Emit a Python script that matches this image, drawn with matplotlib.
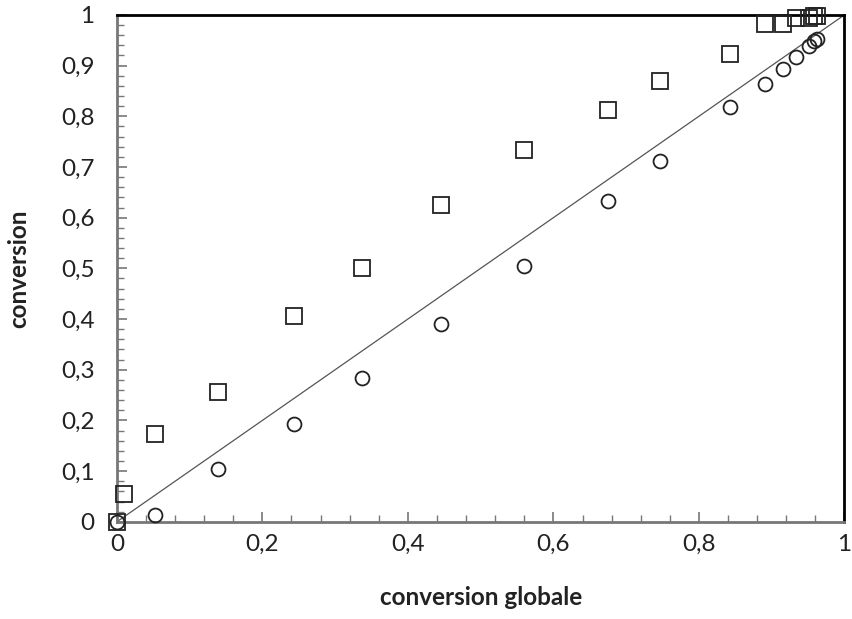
import matplotlib.pyplot as plt
from matplotlib.ticker import MultipleLocator, FuncFormatter

plt.rcParams['font.family'] = ['Lato', 'DejaVu Sans']

# conversion globale (x) et conversions (y)
x_sq = [0, 0.01, 0.052, 0.139, 0.243, 0.337, 0.445, 0.56, 0.675, 0.747, 0.843, 0.891, 0.915, 0.934, 0.951, 0.958, 0.962]
y_sq = [0, 0.055, 0.174, 0.256, 0.406, 0.501, 0.625, 0.734, 0.813, 0.870, 0.923, 0.982, 0.982, 0.994, 0.994, 0.998, 0.998]
x_ci = [0, 0.052, 0.139, 0.243, 0.337, 0.445, 0.56, 0.675, 0.747, 0.843, 0.891, 0.915, 0.934, 0.951, 0.958, 0.962]
y_ci = [0, 0.014, 0.105, 0.193, 0.284, 0.391, 0.505, 0.633, 0.712, 0.819, 0.864, 0.893, 0.917, 0.939, 0.949, 0.953]

fig = plt.figure(figsize=(8.53, 6.19), dpi=100)
ax = fig.add_axes([0.137, 0.157, 0.853, 0.819])

ax.plot([0, 1], [0, 1], color='#555555', lw=0.9, zorder=1)
ax.plot(x_sq, y_sq, 's', ms=11, mfc='none', mec='#222222', mew=1.3, clip_on=False, zorder=3)
ax.plot(x_ci, y_ci, 'o', ms=10, mfc='none', mec='#222222', mew=1.3, clip_on=False, zorder=3)

ax.set_xlim(0, 1)
ax.set_ylim(0, 1)
ax.xaxis.set_major_locator(MultipleLocator(0.2))
ax.xaxis.set_minor_locator(MultipleLocator(0.04))
ax.yaxis.set_major_locator(MultipleLocator(0.1))
ax.yaxis.set_minor_locator(MultipleLocator(0.02))
fmt = FuncFormatter(lambda v, p: ('%g' % round(v, 2)).replace('.', ','))
ax.xaxis.set_major_formatter(fmt)
ax.yaxis.set_major_formatter(fmt)

ax.tick_params(which='both', direction='in', color='#777777', labelsize=17.5, labelcolor='#222222')
ax.tick_params(which='major', length=7, width=1.2)
ax.tick_params(axis='x', which='major', pad=9)
ax.tick_params(axis='y', which='major', pad=16)
ax.tick_params(which='minor', length=5, width=1.0)

for s in ['left', 'bottom']:
    ax.spines[s].set_color('#777777')
    ax.spines[s].set_linewidth(2)
for s in ['top', 'right']:
    ax.spines[s].set_color('black')
    ax.spines[s].set_linewidth(2)

ax.set_xlabel('conversion globale', fontsize=17.5, fontweight='bold', color='#222222', labelpad=22)
ax.set_ylabel('conversion', fontsize=17.5, fontweight='bold', color='#222222', labelpad=22)

fig.savefig('out.png', dpi=100)
